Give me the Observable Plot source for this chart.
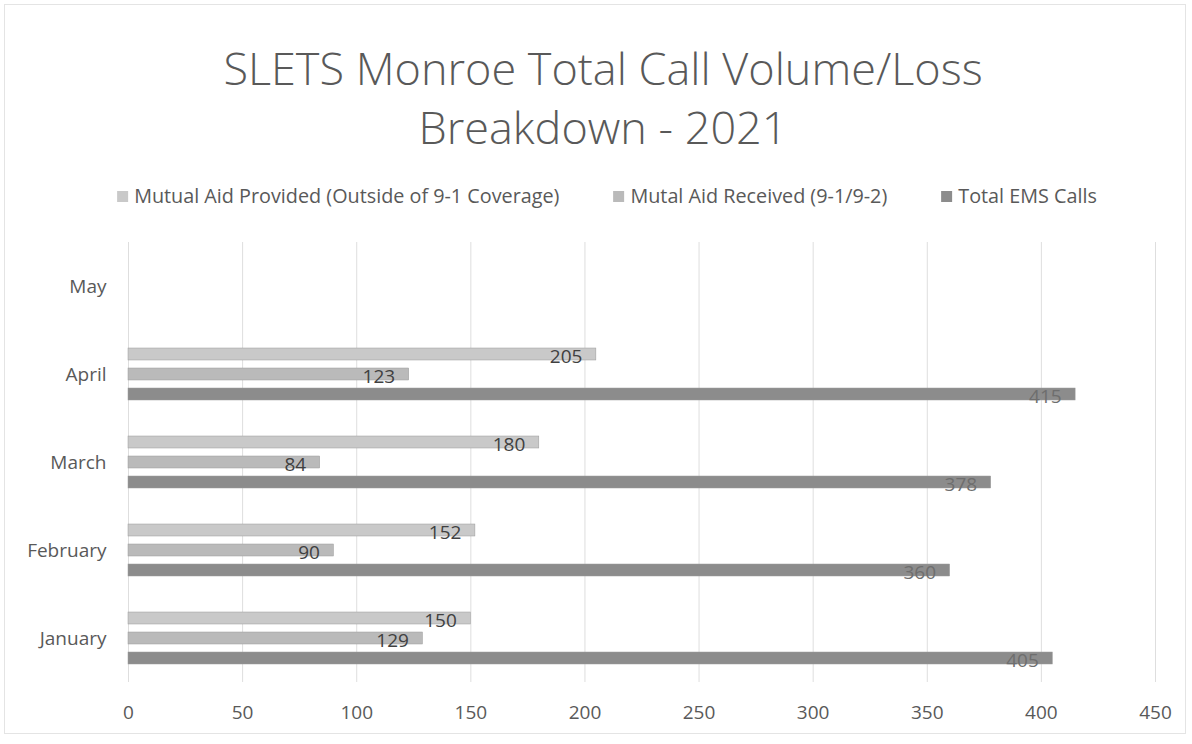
<!DOCTYPE html>
<html>
<head>
<meta charset="utf-8">
<script src="https://cdn.jsdelivr.net/npm/d3@7"></script>
<script src="https://cdn.jsdelivr.net/npm/@observablehq/plot@0.6"></script>
<style>
  html, body { margin: 0; padding: 0; background: #fff; }
  #wrap { position: relative; width: 1192px; height: 744px; overflow: hidden; font-family: "Open Sans", sans-serif; }
  #frame { position: absolute; left: 4px; top: 4px; width: 1182px; height: 730px; border: 1px solid #e4e4e4; box-sizing: border-box; }
  #title { position: absolute; left: 603px; top: 38px; transform: translateX(-50%); white-space: nowrap; text-align: center;
           font-size: 45px; line-height: 59px; font-weight: 300; color: #595959; }
  #legend { position: absolute; left: 607px; top: 183px; transform: translateX(-50%); display: flex; gap: 54px; white-space: nowrap;
            font-size: 19.8px; line-height: 26px; color: #595959; }
  #legend .item { display: flex; align-items: center; }
  #legend .sw { width: 11px; height: 11px; margin-right: 6px; }
  #chart { position: absolute; left: 0; top: 215px; }
</style>
</head>
<body>
<div id="wrap">
  <div id="frame"></div>
  <div id="title">SLETS Monroe Total Call Volume/Loss<br>Breakdown - 2021</div>
  <div id="legend"></div>
  <div id="chart"></div>
</div>
<script>
const months = ["January", "February", "March", "April"];
const monthAxis = ["May", "April", "March", "February", "January"];
const seriesNames = ["Mutual Aid Provided (Outside of 9-1 Coverage)", "Mutal Aid Received (9-1/9-2)", "Total EMS Calls"];
const seriesColors = ["#c9c9c9", "#bababa", "#8c8c8c"];
const labelColors = ["#404040", "#404040", "#6e6e6e"];
const provided = [150, 152, 180, 205];
const received = [129, 90, 84, 123];
const totalEms = [405, 360, 378, 415];
const xTicks = [0, 50, 100, 150, 200, 250, 300, 350, 400, 450];

const seriesValues = [provided, received, totalEms];
const rows = [];
monthAxis.forEach((m) => {
  const i = months.indexOf(m);
  seriesNames.forEach((s, j) => rows.push({
    month: m, series: s,
    value: i >= 0 ? seriesValues[j][i] : null,
    color: seriesColors[j], labelColor: labelColors[j]
  }));
});

const legend = document.getElementById("legend");
seriesNames.forEach((s, j) => {
  const it = document.createElement("div");
  it.className = "item";
  it.innerHTML = `<span class="sw" style="background:${seriesColors[j]}"></span><span>${s}</span>`;
  legend.appendChild(it);
});

const chart = Plot.plot({
  width: 1192,
  height: 529,
  marginLeft: 128,
  marginRight: 37,
  marginTop: 27,
  marginBottom: 62,
  style: {fontFamily: "Open Sans, sans-serif", fontSize: "19px", color: "#595959", background: "transparent"},
  x: {domain: [0, 450], ticks: xTicks, tickSize: 0, tickPadding: 23, label: null},
  y: {domain: seriesNames, axis: null, paddingInner: 0.4, paddingOuter: 0.9},
  fy: {domain: monthAxis, axis: "left", label: null, tickSize: 0, tickPadding: 22, padding: 0},
  facet: {data: rows, y: "month"},
  marks: [
    Plot.ruleX(xTicks, {stroke: "#dedede", strokeWidth: 1}),
    Plot.barX(rows, {x: "value", y: "series", fy: "month", fill: "color", stroke: "#9a9a9a", strokeWidth: 0.5}),
    Plot.text(rows, {x: "value", y: "series", fy: "month", text: d => d.value == null ? null : String(d.value), textAnchor: "end", dx: -14, dy: 2, fill: "labelColor", fontSize: 19})
  ]
});
document.getElementById("chart").appendChild(chart);
</script>
</body>
</html>
